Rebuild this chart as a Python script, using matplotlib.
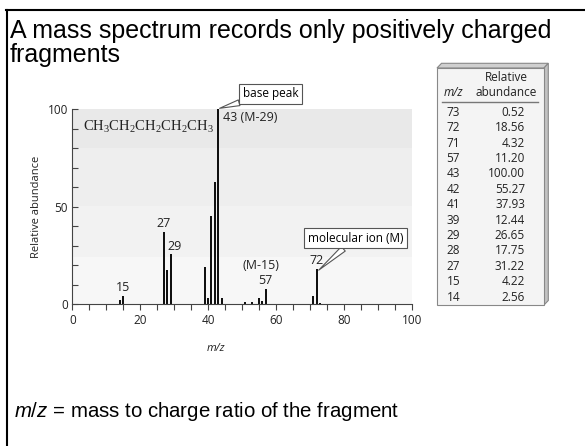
import matplotlib.pyplot as plt
import matplotlib.transforms as mtransforms
from matplotlib.lines import Line2D
from matplotlib.patches import Polygon, Rectangle

# spectrum of pentane, heights
mz = [14, 15, 27, 28, 29, 39, 40, 41, 42, 43, 44, 51, 53, 55, 56, 57, 71, 72, 73]
abundance = [2.4, 4.3, 37.3, 17.6, 25.6, 19.1, 3.0, 45.3, 62.7, 100.0, 3.0,
             1.0, 1.0, 3.0, 1.7, 8.0, 4.4, 18.1, 0.5]

# peaks that carry a number above them
labelled = [15, 27, 29, 57, 72]

# table on the right
table_mz = [73, 72, 71, 57, 43, 42, 41, 39, 29, 28, 27, 15, 14]
table_abund = [0.52, 18.56, 4.32, 11.20, 100.00, 55.27, 37.93, 12.44, 26.65,
               17.75, 31.22, 4.22, 2.56]

title = "A mass spectrum records only positively charged\nfragments"
formula = r"$\mathregular{CH_3CH_2CH_2CH_2CH_3}$"

plt.rcParams['mathtext.fontset'] = 'custom'
plt.rcParams['mathtext.it'] = 'Liberation Sans:italic'
plt.rcParams['mathtext.rm'] = 'Liberation Sans'

W, H = 585, 446
fig = plt.figure(figsize=(W / 100, H / 100), dpi=100)
# pixel coords, y going down
px = mtransforms.Affine2D().scale(1 / W, -1 / H).translate(0, 1) + fig.transFigure

ax = fig.add_axes([72.3 / W, 1 - 304.3 / H, 339.4 / W, 195 / H])
ax.set_xlim(0, 100)
ax.set_ylim(0, 100)

# grey shading behind the peaks
bands = [(0, 24.5, '#f7f7f7'), (24.5, 50.3, '#f2f2f2'),
         (50.3, 80, '#eeeeee'), (80, 100, '#e9e9e9')]
for lo, hi, c in bands:
    ax.axhspan(lo, hi, color=c, lw=0, zorder=0)

ax.bar(mz, abundance, width=0.6, color='#111111', zorder=2)

font = 'Open Sans'
for s in ['top', 'right']:
    ax.spines[s].set_visible(False)
for s in ['left', 'bottom']:
    ax.spines[s].set_color('#444444')
    ax.spines[s].set_linewidth(0.8)

ax.set_xticks(range(0, 101, 20))
ax.set_xticks(range(0, 101, 5), minor=True)
ax.set_yticks([0, 50, 100])
ax.set_yticks(range(0, 101, 10), minor=True)
ax.tick_params(axis='x', which='both', direction='out', length=4, width=0.8,
               color='#444444', labelsize=8.5, pad=3)
ax.tick_params(axis='y', which='both', direction='in', length=4, width=0.8,
               color='#444444', labelsize=8.5, pad=3)
for lab in ax.get_xticklabels() + ax.get_yticklabels():
    lab.set_family(font)
    lab.set_color('#222222')

ax.set_ylabel("Relative abundance", family=font, fontsize=8, color='#222222')
ax.set_xlabel("m/z", family=font, fontsize=8, style='italic', color='#222222')
ax.xaxis.set_label_coords(0.423, -0.2)

# numbers over the peaks
for m, h in zip(mz, abundance):
    if m in labelled:
        dx = 3 if m == 29 else 0
        ax.annotate(str(m), xy=(m, h), xytext=(dx, 6), textcoords='offset points',
                    ha='center', va='center', family=font, fontsize=9, color='#222222')
ax.text(55.7, 19.8, "(M-15)", ha='center', va='center', family=font, fontsize=9,
        color='#222222')
ax.text(44.4, 96, "43 (M-29)", ha='left', va='center', family=font, fontsize=9,
        color='#222222')
ax.text(3.2, 90.8, formula, ha='left', va='center', family='Liberation Serif',
        fontsize=10.5, color='#222222')

box = dict(boxstyle='square,pad=0.3', fc='white', ec='#555555', lw=0.8)
wedge = dict(arrowstyle='wedge,tail_width=0.5,shrink_factor=0.5', fc='white',
             ec='#555555', lw=0.8, shrinkA=0, shrinkB=0)
ax.annotate("base peak", xy=(43.4, 100.5), xytext=(58.5, 108), ha='center',
            va='center', family=font, fontsize=8.5, bbox=box, arrowprops=wedge,
            annotation_clip=False)
ax.annotate("molecular ion (M)", xy=(72.6, 17.5), xytext=(83.4, 33.8), ha='center',
            va='center', family=font, fontsize=8.5, bbox=box, arrowprops=wedge)

# table drawn as a little 3d box
fig.add_artist(Polygon([(437, 68), (441.5, 63.3), (548.3, 63.3), (544, 68)],
                       closed=True, transform=px, fc='#cfcfcf', ec='#888888', lw=0.8))
fig.add_artist(Polygon([(544, 68), (548.3, 63.3), (548.3, 300.5), (544, 305)],
                       closed=True, transform=px, fc='#c2c2c2', ec='#888888', lw=0.8))
fig.add_artist(Rectangle((437, 68), 107, 237, transform=px, fc='#f4f4f4',
                         ec='#888888', lw=0.8))
fig.add_artist(Line2D([441.7, 538.3], [102.3, 102.3], transform=px,
                      color='#777777', lw=1))
fig.text(506, 77.3, "Relative", transform=px, ha='center', va='center',
         family=font, fontsize=8.5, color='#222222')
fig.text(506, 92.3, "abundance", transform=px, ha='center', va='center',
         family=font, fontsize=8.5, color='#222222')
fig.text(453.3, 92.3, "m/z", transform=px, ha='center', va='center',
         family=font, fontsize=8.5, style='italic', color='#222222')
for i, (m, a) in enumerate(zip(table_mz, table_abund)):
    y = 112.3 + i * 15.4
    fig.text(453.3, y, str(m), transform=px, ha='center', va='center',
             family=font, fontsize=8.5, color='#222222')
    fig.text(525, y, f"{a:.2f}", transform=px, ha='right', va='center',
             family=font, fontsize=8.5, color='#222222')

# slide text and frame (baseline of the last title line)
fig.text(10, 62, title, transform=px, ha='left', va='baseline',
         family='Liberation Sans', fontsize=18, linespacing=1.0)
fig.text(14, 417, r"$\mathit{m/z}$ = mass to charge ratio of the fragment",
         transform=px, ha='left', va='baseline', family='Liberation Sans', fontsize=14.7)
fig.add_artist(Line2D([7, 7], [10, H], transform=px, color='black', lw=1.5))
fig.add_artist(Line2D([6, W], [10, 10], transform=px, color='black', lw=1.5))

fig.savefig("out.png", dpi=100)
